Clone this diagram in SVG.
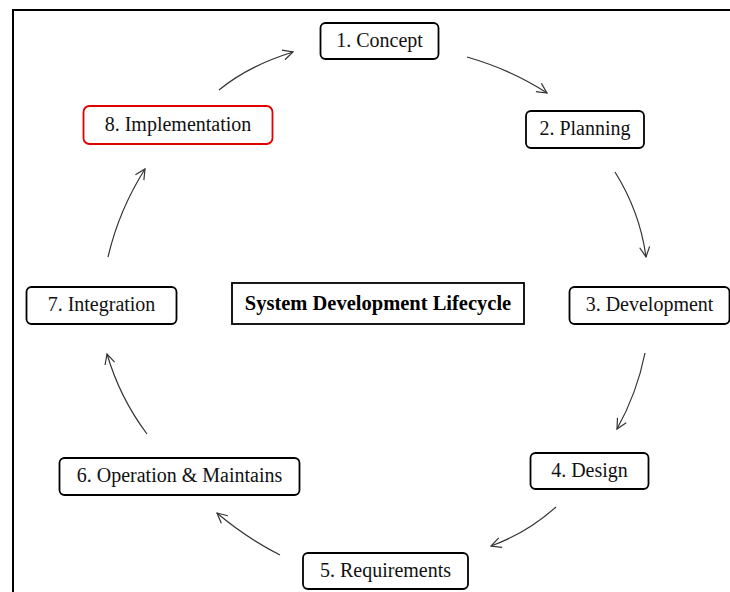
<svg xmlns="http://www.w3.org/2000/svg" width="730" height="592" viewBox="0 0 730 592">
  <style>
    .box { fill: #fff; stroke: #000; stroke-width: 1.8; }
    .red { stroke: #e00000; }
    .lbl { font-size: 20px; fill: #111; text-anchor: middle; }
    .title { font-size: 20.5px; font-weight: bold; fill: #000; text-anchor: middle; }
    .arc { fill: none; stroke: #333; stroke-width: 1.2; marker-end: url(#head); }
  </style>
  <defs>
    <marker id="head" viewBox="0 0 12 12" refX="11" refY="6" markerWidth="12" markerHeight="12" markerUnits="userSpaceOnUse" orient="auto">
      <path d="M1,1 L11,6 L1,11" fill="none" stroke="#333" stroke-width="1.2"/>
    </marker>
  </defs>
  <rect width="730" height="592" fill="#fff"/>
  <!-- frame: top and left rules -->
  <path d="M13,592 V10 H730" fill="none" stroke="#000" stroke-width="2"/>

  <g id="connectors">
    <path class="arc" d="M219,90 Q248,66 293,52"/>
    <path class="arc" d="M467,57 Q512,70 547,93"/>
    <path class="arc" d="M615,172 Q640,212 646,257"/>
    <path class="arc" d="M645,353 Q637,393 617,429"/>
    <path class="arc" d="M556,507 Q527,533 491,546"/>
    <path class="arc" d="M280,555 Q245,537 217,513"/>
    <path class="arc" d="M147,434 Q120,398 107,354"/>
    <path class="arc" d="M108,257 Q119,210 145,169"/>
  </g>

  <g font-family="Liberation Serif, serif">
    <g id="title">
      <rect class="box" x="232" y="283" width="292" height="41"/>
      <text class="title" x="378" y="310">System Development Lifecycle</text>
    </g>
    <g id="n1">
      <rect class="box" x="320.5" y="23" width="118" height="36" rx="5"/>
      <text class="lbl" x="379.5" y="47">1. Concept</text>
    </g>
    <g id="n2">
      <rect class="box" x="526" y="111" width="118" height="37" rx="5"/>
      <text class="lbl" x="585" y="135">2. Planning</text>
    </g>
    <g id="n3">
      <rect class="box" x="569.5" y="287" width="160" height="37" rx="5"/>
      <text class="lbl" x="649.5" y="311">3. Development</text>
    </g>
    <g id="n4">
      <rect class="box" x="530.5" y="453" width="118" height="36" rx="5"/>
      <text class="lbl" x="589.5" y="477">4. Design</text>
    </g>
    <g id="n5">
      <rect class="box" x="303" y="553" width="165" height="36" rx="5"/>
      <text class="lbl" x="385.5" y="577">5. Requirements</text>
    </g>
    <g id="n6">
      <rect class="box" x="59.5" y="458" width="240" height="37" rx="5"/>
      <text class="lbl" x="179.5" y="482">6. Operation &amp; Maintains</text>
    </g>
    <g id="n7">
      <rect class="box" x="26.5" y="287" width="150" height="37" rx="5"/>
      <text class="lbl" x="101.5" y="311">7. Integration</text>
    </g>
    <g id="n8">
      <rect class="box red" x="83.5" y="106" width="189" height="38" rx="6"/>
      <text class="lbl" x="178" y="131">8. Implementation</text>
    </g>
  </g>
</svg>
